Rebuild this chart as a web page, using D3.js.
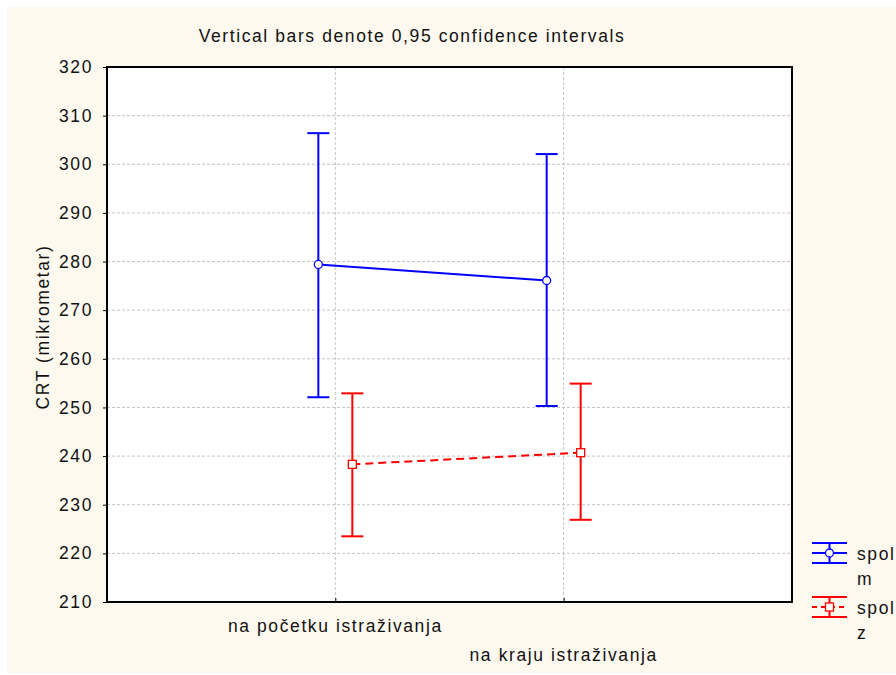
<!DOCTYPE html>
<html>
<head>
<meta charset="utf-8">
<script src="https://cdn.jsdelivr.net/npm/d3@7"></script>
<style>
  html, body { margin: 0; padding: 0; background: #ffffff; }
  svg { display: block; font-family: "Liberation Sans", Arial, sans-serif; }
  svg text { letter-spacing: 1.6px; }
</style>
</head>
<body>
<svg id="chart" width="896" height="675"></svg>
<script>
// ---- data ----
const categories = ["na početku istraživanja", "na kraju istraživanja"];
const seriesKeys = ["m", "z"];
const seriesPrefix = "spol";
const mMean = [279.4, 276.1];
const mLow  = [252.1, 250.3];
const mHigh = [306.4, 302.1];
const zMean = [238.3, 240.7];
const zLow  = [223.5, 226.9];
const zHigh = [252.9, 254.9];
const yTicks = [210, 220, 230, 240, 250, 260, 270, 280, 290, 300, 310, 320];
const titleText = "Vertical bars denote 0,95 confidence intervals";
const yLabelText = "CRT (mikrometar)";

const series = [
  { key: "m", mean: mMean, low: mLow, high: mHigh, color: "#0000ff", dash: null, marker: "circle" },
  { key: "z", mean: zMean, low: zLow, high: zHigh, color: "#ff0000", dash: "8,5", marker: "square" }
];

// ---- layout ----
const svg = d3.select("#chart");
const L = 107, R = 792, T = 67, B = 602;
const FS = 17.5;

svg.append("rect").attr("x", 7).attr("y", 7).attr("width", 889).attr("height", 666).attr("fill", "#fef9ef");
svg.append("rect").attr("x", L).attr("y", T).attr("width", R - L).attr("height", B - T).attr("fill", "#ffffff");

const x = d3.scalePoint().domain(categories).range([L, R]).padding(1);
const off = d3.scalePoint().domain(seriesKeys).range([-17, 17]);
const y = d3.scaleLinear().domain([210, 320]).range([B, T]);

// grid
const grid = svg.append("g");
grid.selectAll("line.h").data(yTicks.filter(d => d > 210 && d < 320)).join("line")
  .attr("x1", L).attr("x2", R).attr("y1", d => y(d)).attr("y2", d => y(d))
  .attr("stroke", "#c4c4c4").attr("stroke-width", 1).attr("stroke-dasharray", "3,2");
grid.selectAll("line.v").data(categories).join("line")
  .attr("x1", d => x(d)).attr("x2", d => x(d)).attr("y1", T).attr("y2", B)
  .attr("stroke", "#c4c4c4").attr("stroke-width", 1).attr("stroke-dasharray", "3,2");

// axes
const yAxis = d3.axisLeft(y).tickValues(yTicks).tickSize(4).tickPadding(10).tickFormat(d3.format("d"));
const gy = svg.append("g").attr("transform", `translate(${L},0)`).call(yAxis);
gy.select(".domain").remove();
gy.selectAll(".tick line").attr("stroke", "#000");
gy.selectAll(".tick text").attr("font-size", FS).attr("fill", "#111").attr("font-family", "Liberation Sans, Arial");

const xAxis = d3.axisBottom(x).tickSize(-4).tickFormat("");
const gx = svg.append("g").attr("transform", `translate(0,${B})`).call(xAxis);
gx.select(".domain").remove();
gx.selectAll(".tick line").attr("stroke", "#000");

// x labels (staggered)
svg.append("g").selectAll("text").data(categories).join("text")
  .attr("x", d => x(d)).attr("y", (d, i) => i === 0 ? 632 : 661)
  .attr("text-anchor", "middle").attr("font-size", FS).attr("fill", "#111")
  .text(d => d);

// frame
svg.append("rect").attr("x", L).attr("y", T).attr("width", R - L).attr("height", B - T)
  .attr("fill", "none").attr("stroke", "#000").attr("stroke-width", 2);

// title & y label
svg.append("text").attr("x", 412).attr("y", 42).attr("text-anchor", "middle")
  .attr("font-size", FS).attr("fill", "#111").text(titleText);
svg.append("text").attr("transform", `translate(49,327) rotate(-90)`)
  .attr("text-anchor", "middle").attr("font-size", FS).attr("fill", "#111").text(yLabelText);

// series
const capW = 11;
series.forEach(s => {
  const g = svg.append("g");
  const px = i => x(categories[i]) + off(s.key);
  const idx = categories.map((c, i) => i);
  g.append("path")
    .attr("d", d3.line().x(i => px(i)).y(i => y(s.mean[i]))(idx))
    .attr("fill", "none").attr("stroke", s.color).attr("stroke-width", 2)
    .attr("stroke-dasharray", s.dash);
  idx.forEach(i => {
    g.append("line").attr("x1", px(i)).attr("x2", px(i)).attr("y1", y(s.low[i])).attr("y2", y(s.high[i]))
      .attr("stroke", s.color).attr("stroke-width", 2);
    [s.low[i], s.high[i]].forEach(v => {
      g.append("line").attr("x1", px(i) - capW).attr("x2", px(i) + capW).attr("y1", y(v)).attr("y2", y(v))
        .attr("stroke", s.color).attr("stroke-width", 2);
    });
    if (s.marker === "circle") {
      g.append("circle").attr("cx", px(i)).attr("cy", y(s.mean[i])).attr("r", 4)
        .attr("fill", "#fff").attr("stroke", s.color).attr("stroke-width", 1.3);
    } else {
      g.append("rect").attr("x", px(i) - 4).attr("y", y(s.mean[i]) - 4).attr("width", 8).attr("height", 8)
        .attr("fill", "#fff").attr("stroke", s.color).attr("stroke-width", 1.3);
    }
  });
});

// legend
const leg = svg.append("g");
series.forEach((s, k) => {
  const cy = 553 + k * 54;
  const x0 = 812, x1 = 847, xm = (x0 + x1) / 2;
  const gg = leg.append("g");
  gg.append("line").attr("x1", x0).attr("x2", x1).attr("y1", cy - 10).attr("y2", cy - 10).attr("stroke", s.color).attr("stroke-width", 2);
  gg.append("line").attr("x1", x0).attr("x2", x1).attr("y1", cy + 10).attr("y2", cy + 10).attr("stroke", s.color).attr("stroke-width", 2);
  gg.append("line").attr("x1", xm).attr("x2", xm).attr("y1", cy - 10).attr("y2", cy + 10).attr("stroke", s.color).attr("stroke-width", 2);
  gg.append("line").attr("x1", x0).attr("x2", x1).attr("y1", cy).attr("y2", cy).attr("stroke", s.color).attr("stroke-width", 2)
    .attr("stroke-dasharray", s.dash ? "5,4" : null);
  if (s.marker === "circle") {
    gg.append("circle").attr("cx", xm).attr("cy", cy).attr("r", 4).attr("fill", "#fff").attr("stroke", s.color).attr("stroke-width", 1.3);
  } else {
    gg.append("rect").attr("x", xm - 4).attr("y", cy - 4).attr("width", 8).attr("height", 8).attr("fill", "#fff").attr("stroke", s.color).attr("stroke-width", 1.3);
  }
  gg.append("text").attr("x", 857).attr("y", cy + 7).attr("font-size", FS).attr("fill", "#111").text(seriesPrefix);
  gg.append("text").attr("x", 857).attr("y", cy + 32).attr("font-size", FS).attr("fill", "#111").text(s.key);
});
</script>
</body>
</html>
